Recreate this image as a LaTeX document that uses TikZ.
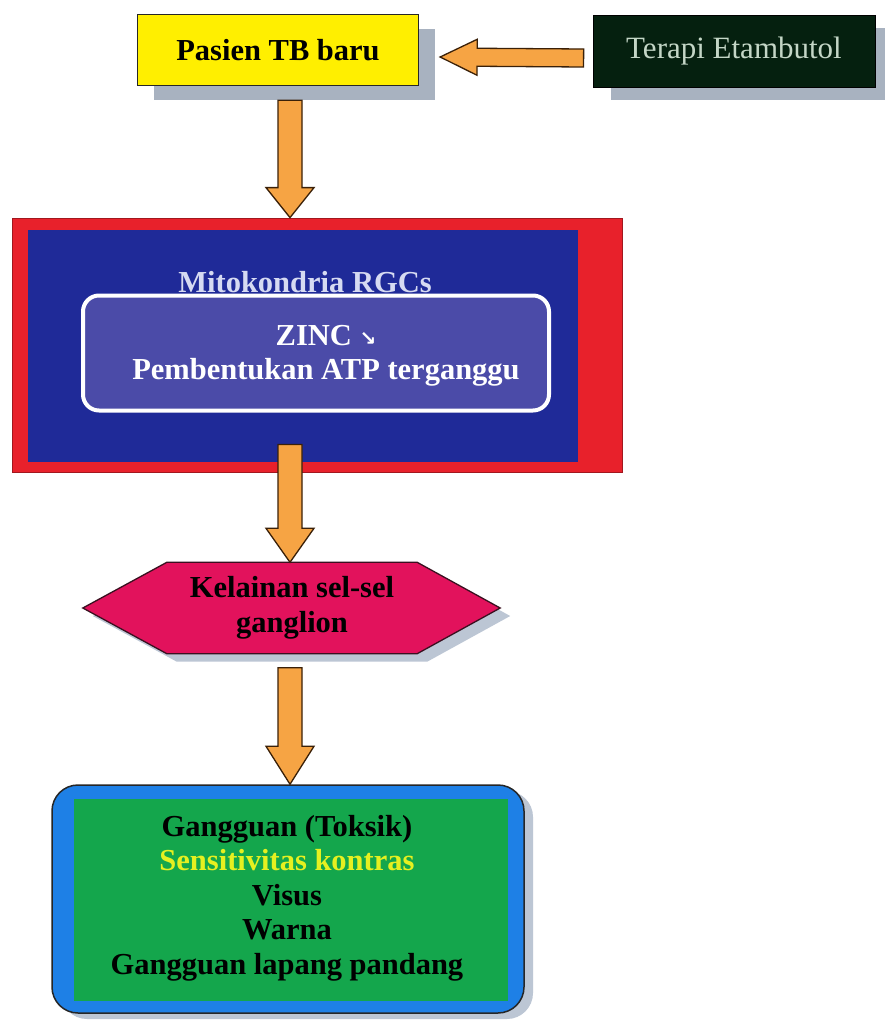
\documentclass[tikz,border=0pt]{standalone}
\usepackage{fontspec}
\setmainfont{Liberation Serif}
\newfontfamily\symfont{DejaVu Sans}
\usetikzlibrary{calc,shadows,backgrounds}
\definecolor{yfill}{HTML}{FFEF00}
\definecolor{shadowc}{HTML}{A8B2C0}
\definecolor{lshadow}{HTML}{BCC6D4}
\definecolor{tfill}{HTML}{05200F}
\definecolor{ttext}{HTML}{C4D6C6}
\definecolor{orangec}{HTML}{F6A444}
\definecolor{orangeline}{HTML}{3A2008}
\definecolor{redc}{HTML}{E8212B}
\definecolor{bluec}{HTML}{1F2A98}
\definecolor{innerc}{HTML}{4B4BA8}
\definecolor{mtext}{HTML}{D6DAF2}
\definecolor{hexc}{HTML}{E2125C}
\definecolor{hexline}{HTML}{3A1020}
\definecolor{gblue}{HTML}{1E80E6}
\definecolor{ggreen}{HTML}{14A64C}
\definecolor{gyellow}{HTML}{E6F020}
\newcommand\blockarr[5]{%
  \coordinate (ba1) at (#1); \coordinate (ba2) at (#2);
  \coordinate (bm) at ($(ba2)!#5!(ba1)$);
  \draw[blockarrow] ($(ba1)!#3!90:(ba2)$) -- ($(bm)!#3!-90:(ba1)$) -- ($(bm)!#4!-90:(ba1)$) -- (ba2)
     -- ($(bm)!#4!90:(ba1)$) -- ($(bm)!#3!90:(ba1)$) -- ($(ba1)!#3!-90:(ba2)$) -- cycle;}
\tikzset{
  txt/.style={font=\fontsize{30.5}{34.5}\selectfont\bfseries, align=center, inner sep=0pt},
  blockarrow/.style={fill=orangec, draw=orangeline, line width=1.3pt, line join=miter},
  ybox/.style={fill=yfill, draw=black!85, line width=1.3pt, minimum width=281pt, minimum height=71pt,
    txt, drop shadow={shadow xshift=16pt, shadow yshift=-14pt, fill=shadowc, opacity=1}},
  tbox/.style={fill=tfill, draw=black, line width=0.8pt, minimum width=282pt, minimum height=72pt,
    font=\fontsize{31}{35}\selectfont, text=ttext, inner sep=0pt,
    drop shadow={shadow xshift=18pt, shadow yshift=-13pt, fill=shadowc, opacity=1}},
  mbox/.style={fill=redc, draw=redc!70!black, line width=0.8pt, minimum width=610pt, minimum height=254pt},
  ibox/.style={fill=innerc, draw=white, line width=4pt, rounded corners=16pt, minimum width=466pt,
    minimum height=115pt},
  gbox/.style={fill=gblue, draw=black!85, line width=1.5pt, rounded corners=26pt, minimum width=472pt,
    minimum height=228pt, drop shadow={shadow xshift=9pt, shadow yshift=-6pt, fill=lshadow, opacity=1}},
}
\begin{document}
\begin{tikzpicture}[x=1pt,y=-1pt]
\useasboundingbox (0,0) rectangle (885,1023);
\begin{scope}[on background layer]
  \fill[white] (0,0) rectangle (885,1023);
\end{scope}
% top row
\node[ybox] (pasien) at (278,50) {Pasien TB baru};
\node[tbox] (terapi) at (734,51) {Terapi Etambutol};
\blockarr{$(terapi.west)+(-9,7)$}{$(pasien.east)+(21,7)$}{9pt}{18pt}{37pt}
% mitochondria box
\node[mbox] (mito) at (317,345) {};
\fill[bluec] ($(mito.north west)+(16,12)$) rectangle ($(mito.south east)+(-44,-10)$);
\node[txt, text=mtext] (mtitle) at (305,282) {Mitokondria RGCs};
\node[ibox] (inner) at (316,353) {};
\node[txt, text=white] (zinc) at (326,356) {ZINC {\symfont\fontsize{20}{20}\selectfont ↘}\\Pembentukan ATP terganggu};
\blockarr{$(pasien.south)+(12,14)$}{$(mito.north)+(-27,0)$}{12pt}{24pt}{30pt}
% hexagon
\node[txt, text=black, minimum width=250pt, minimum height=91pt] (hex) at (292,608) {Kelainan sel-sel\\ganglion};
\begin{scope}[on background layer]
  \fill[lshadow] ($(hex.north west)+(10,8)$) -- ($(hex.north east)+(10,8)$) -- ($(hex.east)+(93,8)$)
     -- ($(hex.south east)+(10,8)$) -- ($(hex.south west)+(10,8)$) -- ($(hex.west)+(-74,8)$) -- cycle;
  \draw[fill=hexc, draw=hexline, line width=1.3pt] (hex.north west) -- (hex.north east) -- ($(hex.east)+(83,0)$)
     -- (hex.south east) -- (hex.south west) -- ($(hex.west)+(-84,0)$) -- cycle;
\end{scope}
\blockarr{$(mito.south)+(-27,-28)$}{$(hex.north)+(-2,0)$}{12pt}{24pt}{34pt}
% bottom box
\node[gbox] (gang) at (288,899) {};
\fill[ggreen] ($(gang.north west)+(23,15)$) rectangle ($(gang.south east)+(-17,-13)$);
\node[txt, text=black] (gtext) at (287,898) {Gangguan (Toksik)\\\textcolor{gyellow}{Sensitivitas kontras}\\Visus\\Warna\\Gangguan lapang pandang};
\blockarr{$(hex.south)+(-2,14)$}{$(gang.north)+(2,0)$}{12pt}{24pt}{38pt}
\end{tikzpicture}
\end{document}
